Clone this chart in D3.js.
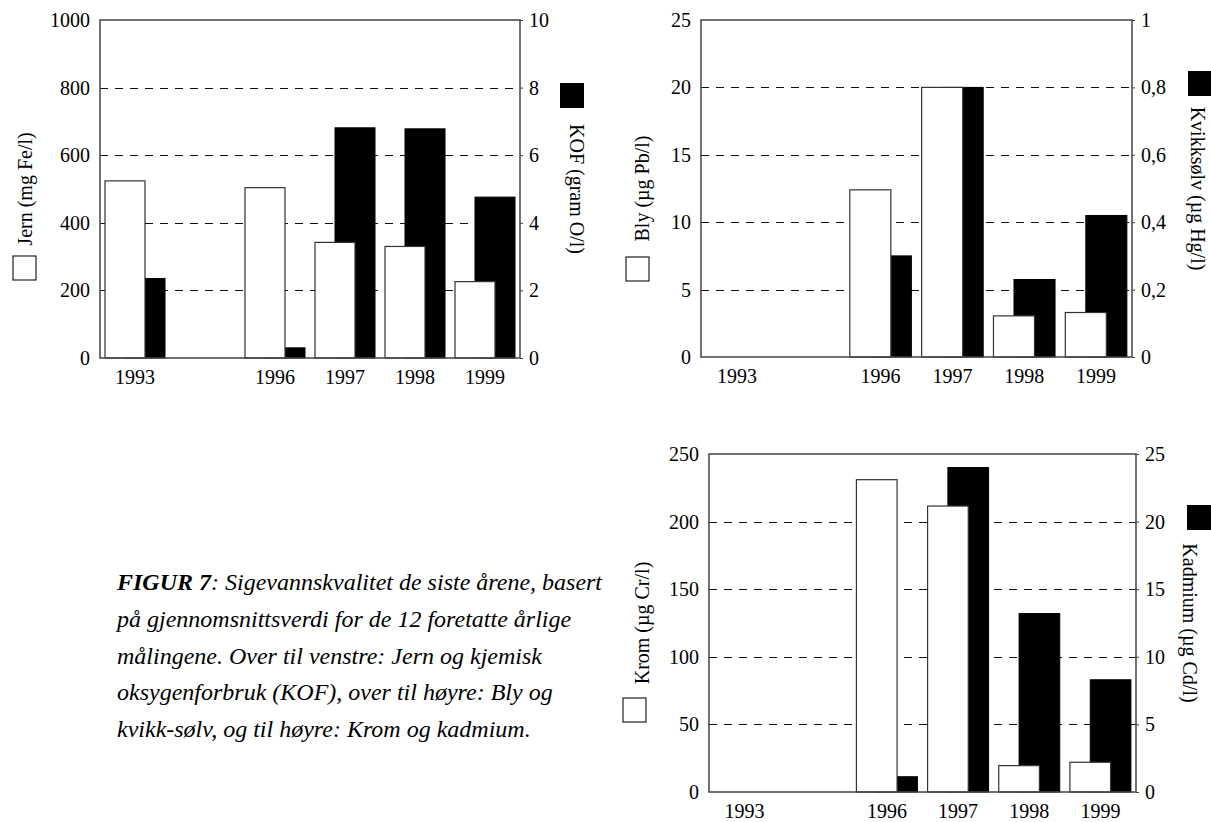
<!DOCTYPE html>
<html>
<head>
<meta charset="utf-8">
<script src="https://cdn.jsdelivr.net/npm/d3@7"></script>
<style>
  body { margin: 0; background: #fff; }
  svg { display: block; font-family: "Liberation Serif", "Times New Roman", serif; }
</style>
</head>
<body>
<svg width="1211" height="822"></svg>
<script>
// År (tom plass mellom 1993 og 1996)
const years = ["1993", "", "1996", "1997", "1998", "1999"];

// Over til venstre
const jern = [524, null, 504, 342, 330, 226];   // mg Fe/l
const kof = [2.35, null, 0.3, 6.81, 6.78, 4.76]; // gram O/l

// Over til høyre
const bly = [0, null, 12.4, 20.0, 3.05, 3.3];      // µg Pb/l
const kvikksolv = [0, null, 0.3, 0.8, 0.23, 0.42]; // µg Hg/l

// Nede til høyre
const krom = [0, null, 231, 211.5, 19.5, 22];      // µg Cr/l
const kadmium = [0, null, 1.13, 24.0, 13.2, 8.3];  // µg Cd/l

const leftTicks1 = [0, 200, 400, 600, 800, 1000];
const rightTicks1 = [0, 2, 4, 6, 8, 10];
const leftTicks2 = [0, 5, 10, 15, 20, 25];
const rightTicks2 = [0, 0.2, 0.4, 0.6, 0.8, 1];
const leftTicks3 = [0, 50, 100, 150, 200, 250];
const rightTicks3 = [0, 5, 10, 15, 20, 25];

const captionLines = [
  "på gjennomsnittsverdi for de 12 foretatte årlige",
  "målingene. Over til venstre: Jern og kjemisk",
  "oksygenforbruk (KOF), over til høyre: Bly og",
  "kvikk-sølv, og til høyre: Krom og kadmium."
];

const svg = d3.select("svg");
const no = d3.formatLocale({ decimal: ",", thousands: " ", grouping: [3], currency: ["", " kr"] });

function drawChart(cfg) {
  const g = svg.append("g");

  const x = d3.scaleBand()
    .domain(years)
    .range([cfg.x0, cfg.x1])
    .paddingInner(1 / 7)
    .paddingOuter(1 / 14);
  const yL = d3.scaleLinear().domain([0, d3.max(cfg.leftTicks)]).range([cfg.y1, cfg.y0]);
  const yR = d3.scaleLinear().domain([0, d3.max(cfg.rightTicks)]).range([cfg.y1, cfg.y0]);

  // stiplede hjelpelinjer
  g.append("g")
    .selectAll("line")
    .data(cfg.leftTicks.slice(1, -1))
    .join("line")
    .attr("x1", cfg.x0)
    .attr("x2", cfg.x1)
    .attr("y1", d => Math.round(yL(d)) + 0.5)
    .attr("y2", d => Math.round(yL(d)) + 0.5)
    .attr("stroke", "#111")
    .attr("stroke-width", 1)
    .attr("stroke-dasharray", "8,7");

  const rows = years.map((yr, i) => ({ yr, a: cfg.left[i], b: cfg.right[i] }));
  const bw = x.bandwidth();

  // svarte søyler (høyre akse) bak de hvite
  g.append("g")
    .selectAll("rect")
    .data(rows.filter(d => d.b != null))
    .join("rect")
    .attr("x", d => x(d.yr) + bw / 3)
    .attr("y", d => yR(d.b))
    .attr("width", bw * 2 / 3)
    .attr("height", d => cfg.y1 - yR(d.b))
    .attr("fill", "#000")
    .attr("stroke", "#000")
    .attr("stroke-width", 1);

  // hvite søyler (venstre akse)
  g.append("g")
    .selectAll("rect")
    .data(rows.filter(d => d.a != null))
    .join("rect")
    .attr("x", d => x(d.yr))
    .attr("y", d => yL(d.a))
    .attr("width", bw * 2 / 3)
    .attr("height", d => cfg.y1 - yL(d.a))
    .attr("fill", "#fff")
    .attr("stroke", "#333")
    .attr("stroke-width", 1.2);

  // ramme
  g.append("rect")
    .attr("x", cfg.x0)
    .attr("y", cfg.y0)
    .attr("width", cfg.x1 - cfg.x0)
    .attr("height", cfg.y1 - cfg.y0)
    .attr("fill", "none")
    .attr("stroke", "#444")
    .attr("stroke-width", 1.5);

  // akser
  const axL = g.append("g")
    .attr("transform", `translate(${cfg.x0},0)`)
    .call(d3.axisLeft(yL).tickValues(cfg.leftTicks).tickSize(0).tickPadding(10).tickFormat(no.format("~g")));
  const axR = g.append("g")
    .attr("transform", `translate(${cfg.x1},0)`)
    .call(d3.axisRight(yR).tickValues(cfg.rightTicks).tickSize(3).tickPadding(6).tickFormat(no.format("~g")));
  const axB = g.append("g")
    .attr("transform", `translate(0,${cfg.y1})`)
    .call(d3.axisBottom(x).tickSize(0).tickPadding(12));

  [axL, axR, axB].forEach(ax => {
    ax.select(".domain").remove();
    ax.selectAll("text")
      .attr("font-family", '"Liberation Serif", "Times New Roman", serif')
      .attr("font-size", 20)
      .attr("fill", "#000");
    ax.selectAll("line").attr("stroke", "#444");
  });

  const mid = (cfg.y0 + cfg.y1) / 2;

  // venstre aksetittel med hvit forklaringsboks
  g.append("text")
    .attr("transform", `translate(${cfg.leftLabelX},${mid}) rotate(-90)`)
    .attr("text-anchor", "middle")
    .attr("dominant-baseline", "central")
    .attr("font-size", 20)
    .text(cfg.leftLabel);
  g.append("rect")
    .attr("x", cfg.leftBox[0])
    .attr("y", cfg.leftBox[1])
    .attr("width", 23)
    .attr("height", 24)
    .attr("fill", "#fff")
    .attr("stroke", "#222")
    .attr("stroke-width", 1.2);

  // høyre aksetittel med svart forklaringsboks
  g.append("text")
    .attr("transform", `translate(${cfg.rightLabelX},${mid}) rotate(90)`)
    .attr("text-anchor", "middle")
    .attr("dominant-baseline", "central")
    .attr("font-size", 20)
    .text(cfg.rightLabel);
  g.append("rect")
    .attr("x", cfg.rightBox[0])
    .attr("y", cfg.rightBox[1])
    .attr("width", 24)
    .attr("height", 25)
    .attr("fill", "#000");
}

drawChart({
  x0: 100, x1: 520, y0: 20, y1: 358,
  left: jern, right: kof,
  leftTicks: leftTicks1, rightTicks: rightTicks1,
  leftLabel: "Jern (mg Fe/l)", rightLabel: "KOF (gram O/l)",
  leftLabelX: 25, leftBox: [13, 256],
  rightLabelX: 577, rightBox: [560, 83]
});

drawChart({
  x0: 701, x1: 1132, y0: 20, y1: 357,
  left: bly, right: kvikksolv,
  leftTicks: leftTicks2, rightTicks: rightTicks2,
  leftLabel: "Bly (µg Pb/l)", rightLabel: "Kvikksølv (µg Hg/l)",
  leftLabelX: 642, leftBox: [626, 257],
  rightLabelX: 1198, rightBox: [1188, 71]
});

drawChart({
  x0: 709, x1: 1136, y0: 454, y1: 792,
  left: krom, right: kadmium,
  leftTicks: leftTicks3, rightTicks: rightTicks3,
  leftLabel: "Krom (µg Cr/l)", rightLabel: "Kadmium (µg Cd/l)",
  leftLabelX: 642, leftBox: [623, 698],
  rightLabelX: 1190, rightBox: [1187, 505]
});

// figurtekst
const cap = svg.append("g")
  .attr("font-style", "italic")
  .attr("font-size", 24)
  .attr("fill", "#000");

const first = cap.append("text").attr("x", 117).attr("y", 590);
first.append("tspan").attr("font-weight", "bold").text("FIGUR 7");
first.append("tspan").text(": Sigevannskvalitet de siste årene, basert");

cap.selectAll("text.line")
  .data(captionLines)
  .join("text")
  .attr("class", "line")
  .attr("x", 117)
  .attr("y", (d, i) => 590 + (i + 1) * 36.8)
  .text(d => d);
</script>
</body>
</html>
